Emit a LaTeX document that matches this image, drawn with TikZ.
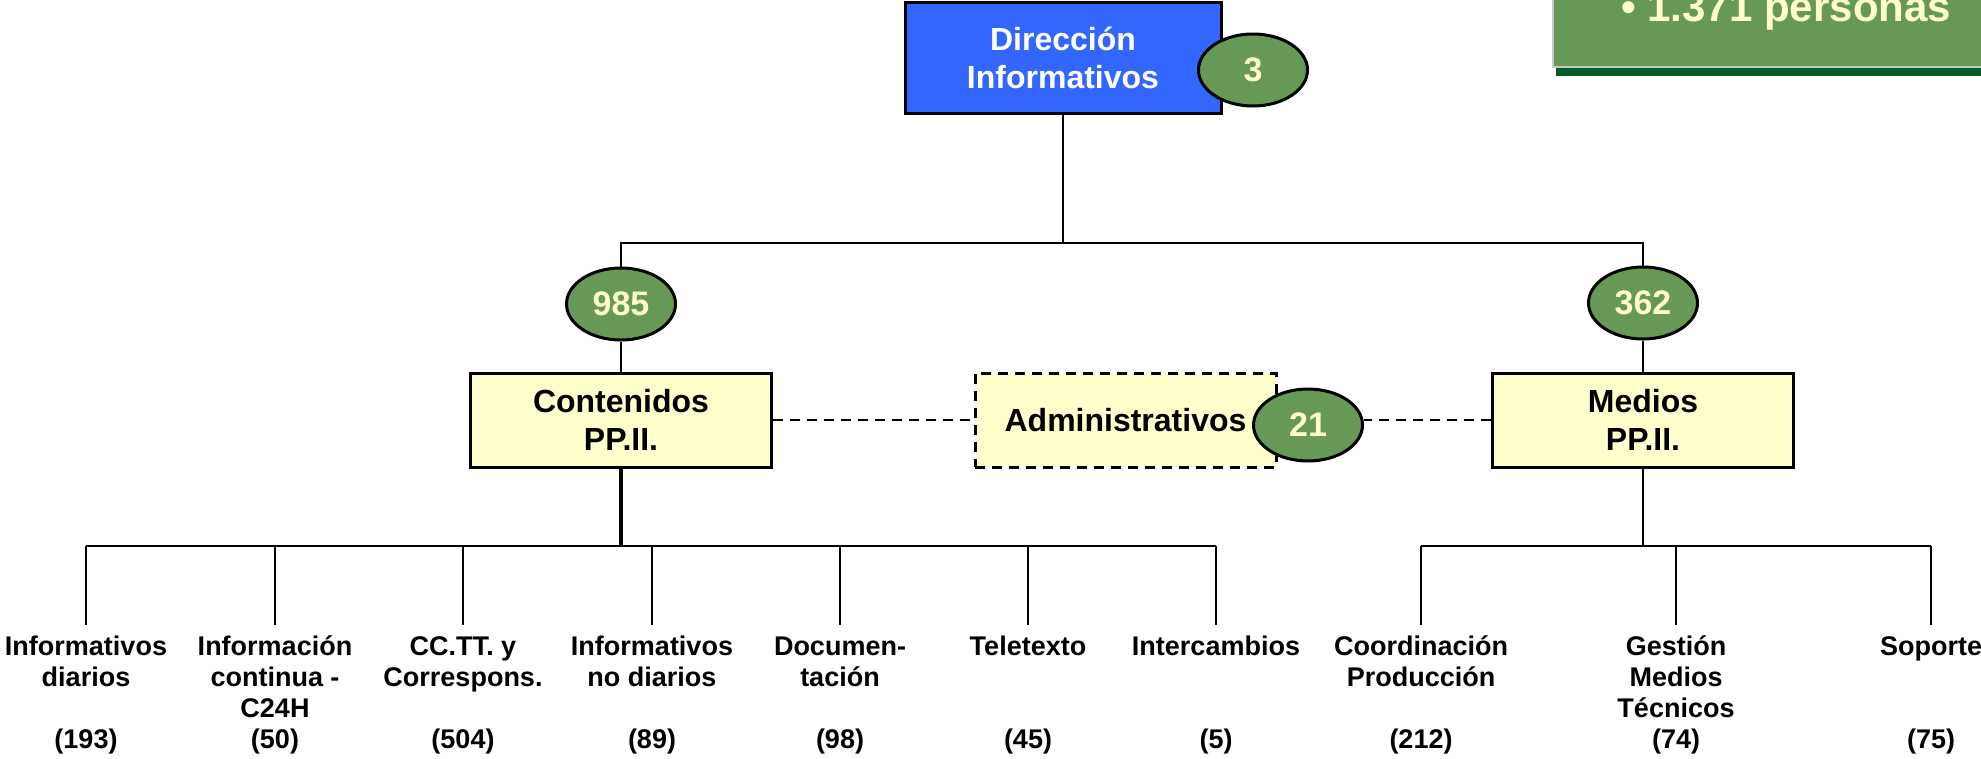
\documentclass[tikz,border=0pt]{standalone}
\usepackage{fontspec}
\setmainfont{Liberation Sans}
\usetikzlibrary{shapes.geometric}
\definecolor{dirblue}{RGB}{51,102,255}
\definecolor{paleyellow}{RGB}{255,255,204}
\definecolor{leafgreen}{RGB}{102,153,85}
\definecolor{darkgreen}{RGB}{0,90,42}
\definecolor{framegray}{RGB}{200,200,200}
\begin{document}
\begin{tikzpicture}[x=1pt,y=-1pt,
  link/.style={draw=black,line width=2.5pt},
  trunk/.style={draw=black,line width=3.6pt},
  dashlink/.style={draw=black,line width=2.5pt,dash pattern=on 10pt off 7pt},
  unitbox/.style={draw=black,line width=3pt,fill=paleyellow,minimum width=301pt,
    minimum height=94pt,inner sep=0pt,align=center,
    font=\fontsize{32}{38}\selectfont\bfseries},
  headbox/.style={unitbox,fill=dirblue,text=white,minimum width=316pt,minimum height=111pt},
  staffbox/.style={unitbox,dash pattern=on 10pt off 7pt},
  count/.style={ellipse,draw=black,line width=3pt,fill=leafgreen,minimum width=109pt,
    minimum height=72pt,inner sep=0pt,text=paleyellow,
    font=\fontsize{34}{40}\selectfont\bfseries},
  leaf/.style={anchor=base,inner sep=0pt,align=center,
    font=\fontsize{27}{31}\selectfont\bfseries},
]
\useasboundingbox (0,0) rectangle (1981,758);
\clip (0,0) rectangle (1981,758);

% headcount panel in the corner
\fill[darkgreen] (1556,60) rectangle (1995,76);
\path[fill=leafgreen,draw=framegray,line width=1.5pt] (1553,-20) rectangle (2000,67);
\node (total) [anchor=base west,inner sep=0pt,text=paleyellow,
  font=\fontsize{42}{48}\selectfont\bfseries] at (1621,21) {• 1.371 personas};

% management level
\node (dir) [headbox] at (1063,57.5) {Dirección\\Informativos};
\node (n3) [count] at (1253,70) {3};

% areas
\node (n985) [count] at (621,304) {985};
\node (n362) [count] at (1643,303) {362};
\node (cont) [unitbox] at (621,420) {Contenidos\\PP.II.};
\node (med) [unitbox] at (1643,420) {Medios\\PP.II.};
\node (adm) [staffbox] at (1125.5,420) {Administrativos};
\node (n21) [count] at (1308,425) {21};

\coordinate (topbus) at (1063,243);
\draw[link] (dir.south) -- (topbus);
\draw[link] (n985.north) |- (topbus) -| (n362.north);
\draw[link] (n985.south) -- (cont.north);
\draw[link] (n362.south) -- (med.north);

\draw[dashlink] (cont.east) -- (cont.east -| adm.west);
\draw[dashlink] (med.west) -- (med.west -| n21.east);

% departments (labels are placed by the baseline of their last line)
\coordinate (cbus) at (621,546);
\coordinate (mbus) at (1643,546);

\coordinate (t1) at (86,625);
\coordinate (t2) at (275,625);
\coordinate (t3) at (463,625);
\coordinate (t4) at (652,625);
\coordinate (t5) at (840,625);
\coordinate (t6) at (1028,625);
\coordinate (t7) at (1216,625);
\coordinate (t8) at (1421,625);
\coordinate (t9) at (1676,625);
\coordinate (t10) at (1931,625);

\node (l1) [leaf] at (86,686) {Informativos\\diarios};
\node (l2) [leaf] at (275,717) {Información\\continua -\\C24H};
\node (l3) [leaf] at (463,686) {CC.TT. y\\Correspons.};
\node (l4) [leaf] at (652,686) {Informativos\\no diarios};
\node (l5) [leaf] at (840,686) {Documen-\\tación};
\node (l6) [leaf] at (1028,655) {Teletexto};
\node (l7) [leaf] at (1216,655) {Intercambios};
\node (l8) [leaf] at (1421,686) {Coordinación\\Producción};
\node (l9) [leaf] at (1676,717) {Gestión\\Medios\\Técnicos};
\node (l10) [leaf] at (1931,655) {Soporte};

\node (p1) [leaf] at (86,748) {(193)};
\node (p2) [leaf] at (275,748) {(50)};
\node (p3) [leaf] at (463,748) {(504)};
\node (p4) [leaf] at (652,748) {(89)};
\node (p5) [leaf] at (840,748) {(98)};
\node (p6) [leaf] at (1028,748) {(45)};
\node (p7) [leaf] at (1216,748) {(5)};
\node (p8) [leaf] at (1421,748) {(212)};
\node (p9) [leaf] at (1676,748) {(74)};
\node (p10) [leaf] at (1931,748) {(75)};

\draw[link] (t1 |- cbus) -- (t7 |- cbus);
\draw[link] (t8 |- mbus) -- (t10 |- mbus);
\foreach \k in {1,...,7} \draw[link] (t\k |- cbus) -- (t\k);
\foreach \k in {8,9,10} \draw[link] (t\k |- mbus) -- (t\k);
\draw[trunk] (cont.south) -- (cbus);
\draw[link] (med.south) -- (mbus);
\end{tikzpicture}
\end{document}
